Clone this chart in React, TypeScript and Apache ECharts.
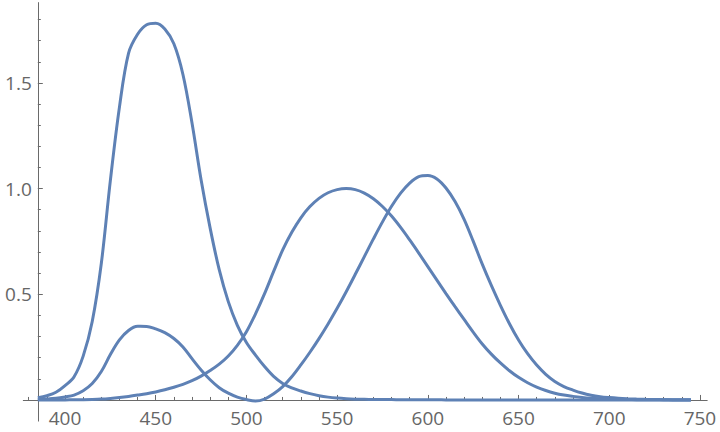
import React, { useEffect, useRef } from "react";
import * as echarts from "echarts";

// Wavelength (nm), 5 nm steps
const wavelengths = [
  385, 390, 395, 400, 405, 410, 415, 420, 425, 430, 435, 440, 445, 450, 455, 460,
  465, 470, 475, 480, 485, 490, 495, 500, 505, 510, 515, 520, 525, 530, 535, 540,
  545, 550, 555, 560, 565, 570, 575, 580, 585, 590, 595, 600, 605, 610, 615, 620,
  625, 630, 635, 640, 645, 650, 655, 660, 665, 670, 675, 680, 685, 690, 695, 700,
  705, 710, 715, 720, 725, 730, 735, 740, 745,
];

// x̄ colour-matching curve (red)
const xBar = [
  0.0022, 0.0042, 0.0077, 0.0143, 0.0232, 0.0435, 0.0776, 0.1344, 0.2148, 0.2839, 0.3285, 0.3483, 0.3481, 0.3362, 0.3187, 0.2908,
  0.2511, 0.1954, 0.1421, 0.0956, 0.058, 0.032, 0.0137, 0.002, -0.005, 0.0043, 0.0291, 0.0633, 0.1096, 0.1655, 0.2258, 0.2904,
  0.3597, 0.4335, 0.5121, 0.5945, 0.6784, 0.7621, 0.8425, 0.9163, 0.9786, 1.0263, 1.0567, 1.0622, 1.0456, 1.0026, 0.9384, 0.8545,
  0.7514, 0.6424, 0.5419, 0.4479, 0.3608, 0.2835, 0.2187, 0.1649, 0.1212, 0.0874, 0.0636, 0.0468, 0.0329, 0.0227, 0.0158, 0.0114,
  0.0081, 0.0058, 0.0041, 0.0029, 0.002, 0.0014, 0.001, 0.0007, 0.0005,
];

// ȳ colour-matching curve (green)
const yBar = [
  0.0001, 0.0001, 0.0002, 0.0004, 0.0006, 0.0012, 0.0022, 0.004, 0.0073, 0.0116, 0.0168, 0.023, 0.0298, 0.038, 0.048, 0.06,
  0.0739, 0.091, 0.1126, 0.139, 0.1693, 0.208, 0.2586, 0.323, 0.4073, 0.503, 0.6082, 0.71, 0.7932, 0.862, 0.9149, 0.954,
  0.9803, 0.995, 1.0, 0.995, 0.9786, 0.952, 0.9154, 0.87, 0.8163, 0.757, 0.6949, 0.631, 0.5668, 0.503, 0.4412, 0.381,
  0.321, 0.265, 0.217, 0.175, 0.1382, 0.107, 0.0816, 0.061, 0.0446, 0.032, 0.0232, 0.017, 0.0119, 0.0082, 0.0057, 0.0041,
  0.0029, 0.0021, 0.0015, 0.001, 0.0007, 0.0005, 0.0004, 0.0002, 0.0002,
];

// z̄ colour-matching curve (blue)
const zBar = [
  0.0106, 0.0201, 0.0362, 0.0679, 0.1102, 0.2074, 0.3713, 0.6456, 1.0391, 1.3856, 1.64, 1.73, 1.775, 1.782, 1.755, 1.685,
  1.54, 1.31, 1.0419, 0.813, 0.6162, 0.4652, 0.3533, 0.272, 0.2123, 0.1582, 0.1117, 0.0783, 0.0573, 0.0422, 0.0298, 0.0203,
  0.0134, 0.0088, 0.0058, 0.0039, 0.0028, 0.0021, 0.0018, 0.0017, 0.0014, 0.0011, 0.001, 0.0008, 0.0006, 0.0003, 0.0002, 0.0002,
  0.0001, 0.0001, 0, 0, 0, 0, 0, 0, 0, 0, 0, 0, 0, 0, 0, 0,
  0, 0, 0, 0, 0, 0, 0, 0, 0,
];

const xTickValues = [400, 450, 500, 550, 600, 650, 700, 750];
const yTickValues = [0, 0.5, 1.0, 1.5];
const yLabelValues = [0.5, 1.0, 1.5];

const LINE_COLOR = "#5E81B5";
const AXIS_COLOR = "#6a6a6a";
const LABEL_COLOR = "#666666";
const FONT = "'Open Sans', 'Noto Sans', sans-serif";

export default function App() {
  const ref = useRef<HTMLDivElement>(null);

  useEffect(() => {
    if (!ref.current) return;
    const chart = echarts.init(ref.current, undefined, { renderer: "svg" });

    const mk = (vals: number[], name: string) => ({
      type: "line",
      name,
      data: wavelengths.map((w, i) => [w, vals[i]]),
      showSymbol: false,
      smooth: 0.35,
      lineStyle: { color: LINE_COLOR, width: 3 },
      itemStyle: { color: LINE_COLOR },
    });

    chart.setOption({
      animation: false,
      grid: {
        left: 23.3,
        top: 2.6,
        width: 683.9,
        height: 418.5,
        containLabel: false,
        outerBoundsMode: "none",
      },
      xAxis: {
        type: "value",
        min: 377,
        max: 754,
        minInterval: 50,
        maxInterval: 50,
        axisLine: { show: true, onZero: true, lineStyle: { color: AXIS_COLOR, width: 1 } },
        axisTick: {
          show: true,
          inside: true,
          length: 5,
          customValues: xTickValues,
          lineStyle: { color: AXIS_COLOR },
        },
        minorTick: { show: true, splitNumber: 5, length: 3, lineStyle: { color: AXIS_COLOR } },
        axisLabel: {
          customValues: xTickValues,
          color: LABEL_COLOR,
          fontFamily: FONT,
          fontSize: 19,
          margin: -12.5,
        },
        splitLine: { show: false },
      },
      yAxis: {
        type: "value",
        min: -0.1,
        max: 1.88,
        minInterval: 0.5,
        maxInterval: 0.5,
        offset: -14.5,
        axisLine: { show: true, onZero: false, lineStyle: { color: AXIS_COLOR, width: 1 } },
        axisTick: {
          show: true,
          inside: true,
          length: 5,
          customValues: yTickValues,
          lineStyle: { color: AXIS_COLOR },
        },
        minorTick: { show: true, splitNumber: 5, length: 3, lineStyle: { color: AXIS_COLOR } },
        axisLabel: {
          customValues: yLabelValues,
          color: LABEL_COLOR,
          fontFamily: FONT,
          fontSize: 19,
          margin: 6,
          formatter: (v: number) => v.toFixed(1),
        },
        splitLine: { show: false },
      },
      series: [mk(xBar, "x"), mk(yBar, "y"), mk(zBar, "z")],
    });

    return () => chart.dispose();
  }, []);

  return (
    <div
      ref={ref}
      style={{ position: "fixed", left: 0, top: 0, width: 720, height: 432, background: "#fff" }}
    />
  );
}
